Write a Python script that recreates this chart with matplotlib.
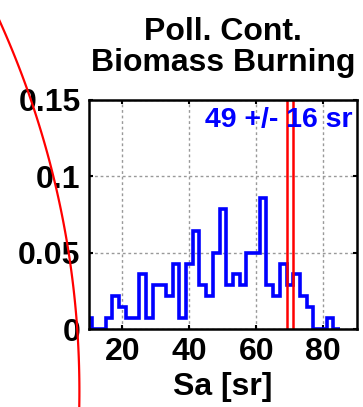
import numpy as np
import matplotlib
matplotlib.use('Agg')
import matplotlib.pyplot as plt

# Lidar ratio histogram, polluted continental / biomass burning
plt.rcParams['font.family'] = ['Liberation Sans', 'DejaVu Sans']
plt.rcParams['font.weight'] = 'bold'

## bin edges (2 sr wide) and counts per bin
bin_start = 9
bin_width = 2
counts = [1, 0, 0, 1, 3, 2, 1, 1, 5, 1, 4, 4, 3, 6, 1, 6, 9, 4, 3, 7,
          11, 4, 5, 4, 7, 7, 12, 4, 3, 6, 4, 5, 3, 2, 0, 0, 1, 0]
## reference values marked in red
ref_lines = [69, 71]
mean_sa = 49
std_sa = 16
x_ticks = [20, 40, 60, 80]
y_ticks = [0, 0.05, 0.1, 0.15]

counts = np.array(counts, dtype=float)
freq = counts / counts.sum()
edges = bin_start + bin_width * np.arange(len(counts) + 1)

fig = plt.figure(figsize=(3.63, 4.07), dpi=100)
ax = fig.add_axes([0.245, 0.1916, 0.738, 0.5627])

ax.stairs(freq, edges, color='blue', linewidth=2.6, baseline=0, zorder=3)
for xr in ref_lines:
    ax.axvline(xr, color='red', linewidth=1.8, zorder=4)

ax.set_xlim(10, 90)
ax.set_ylim(0, 0.15)
ax.set_xticks(x_ticks)
ax.set_yticks(y_ticks)
ax.set_yticklabels(['0', '0.05', '0.1', '0.15'])
ax.grid(True, color='#999999', linestyle=(0, (2, 2)), linewidth=1.0)
ax.tick_params(direction='in', length=3, width=1.5, top=True, right=True,
               labelsize=23, pad=6)
for sp in ax.spines.values():
    sp.set_linewidth(1.8)
    sp.set_zorder(5)

ax.set_title('Poll. Cont.\nBiomass Burning', fontsize=23, fontweight='bold',
             linespacing=1.05, pad=21)
ax.set_xlabel('Sa [sr]', fontsize=23, fontweight='bold', labelpad=3)
ax.text(0.985, 0.97, '%d +/- %d sr' % (mean_sa, std_sa), transform=ax.transAxes,
        ha='right', va='top', color='blue', fontsize=20.5, fontweight='bold',
        zorder=6)

## red arc of the neighbouring panel, a circle in figure pixels
W, H = 363.0, 407.0
cx, cy, r = -819.6, 391.2, 899.0
t = np.linspace(-0.46, 0.02, 100)
arc_x = cx + r * np.cos(t)
arc_y = cy + r * np.sin(t)
fig.add_artist(plt.Line2D(arc_x / W, 1 - arc_y / H, color='red',
                          linewidth=1.6, transform=fig.transFigure))

fig.savefig('out.png', dpi=100)
